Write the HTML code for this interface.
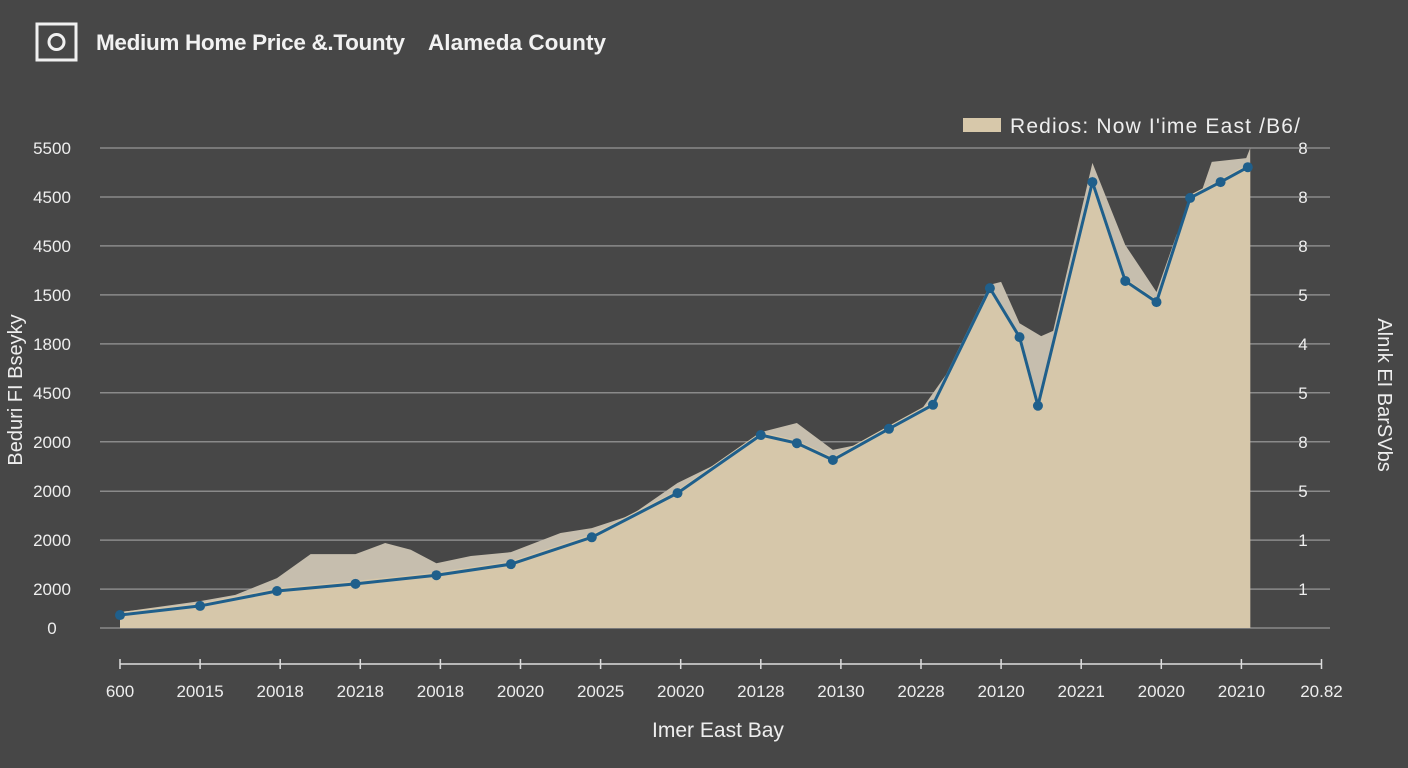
<!DOCTYPE html>
<html><head><meta charset="utf-8"><style>
body{margin:0;background:#474747;width:1408px;height:768px;overflow:hidden;font-family:"Liberation Sans",sans-serif}
</style></head><body>
<svg width="1408" height="768" style="display:block">
<rect width="1408" height="768" fill="#474747"/>
<rect x="37" y="24" width="39" height="36" fill="none" stroke="#f0f0f0" stroke-width="3"/>
<circle cx="56.5" cy="42" r="7.5" fill="none" stroke="#f0f0f0" stroke-width="3"/>
<text x="96" y="50" fill="#f2f2f2" font-size="22.5" font-weight="bold" textLength="309">Medium Home Price &amp;.Tounty</text>
<text x="428" y="50" fill="#f2f2f2" font-size="22.5" font-weight="bold" textLength="178">Alameda County</text>
<rect x="963" y="118" width="38" height="14" fill="#d7c8aa"/>
<text x="1010" y="133" fill="#eeeeee" font-size="21" textLength="290">Redios: Now I'ime East  /B6/</text>
<g id="grid"></g><g id="areas"></g><g id="series"></g><g id="axes"></g>
<text transform="translate(22,390) rotate(-90)" text-anchor="middle" fill="#eeeeee" font-size="20">Beduri FI Bseyky</text>
<text transform="translate(1378,395) rotate(90)" text-anchor="middle" fill="#eeeeee" font-size="20">Alnık EI BarSVbs</text>
<text x="718" y="737" text-anchor="middle" fill="#eeeeee" font-size="21">Imer East Bay</text>
</svg>
<script>
const yTickLabels=["5500","4500","4500","1500","1800","4500","2000","2000","2000","2000","0"];
const yTickValues=[100,89.8,79.6,69.4,59.2,49,38.8,28.5,18.3,8.1,0];
const y2TickLabels=["8","8","8","5","4","5","8","5","1","1"];
const xTickLabels=["600","20015","20018","20218","20018","20020","20025","20020","20128","20130","20228","20120","20221","20020","20210","20.82"];
const lineX=[0,1,1.96,2.94,3.95,4.88,5.89,6.96,8,8.45,8.9,9.6,10.15,10.86,11.23,11.46,12.14,12.55,12.94,13.36,13.74,14.08];
const lineV=[2.7,4.6,7.7,9.2,11,13.3,18.9,28.1,40.2,38.5,35,41.5,46.5,70.8,60.6,46.3,92.9,72.3,67.9,89.6,92.9,96];
const areaX=[0,1,1.44,1.96,2.38,2.94,3.31,3.63,3.95,4.38,4.88,5.5,5.89,6.38,6.96,7.5,8,8.45,8.9,9.25,9.6,10,10.31,10.86,11,11.23,11.5,11.65,12.14,12.55,12.94,13.19,13.5,13.63,14.06,14.11];
const areaV=[3.3,5.6,6.9,10.4,15.4,15.4,17.7,16.3,13.5,15,15.8,19.8,20.8,23.5,30.2,34.6,40.8,42.7,37.1,38.3,42.1,45.4,52.7,71.5,72.1,63.5,60.8,61.9,96.9,79.8,70,81.9,90.8,97.1,97.9,100];
const X=t=>120+t*80.1, Y=v=>628-v*4.8;
const NS="http://www.w3.org/2000/svg";
function mk(tag,attrs,parent){const e=document.createElementNS(NS,tag);for(const k in attrs)e.setAttribute(k,attrs[k]);parent.appendChild(e);return e;}
const grid=document.getElementById('grid'),axes=document.getElementById('axes'),areas=document.getElementById('areas'),series=document.getElementById('series');
yTickValues.forEach((v,i)=>{
 const l=mk('line',{x1:100,x2:1330,y1:Y(v),y2:Y(v),stroke:'#8a8a8a','stroke-width':1.5},grid);
 
 
 const t=mk('text',{x:52,y:Y(v)+6,'text-anchor':'middle',fill:'#eeeeee','font-size':17},axes);t.textContent=yTickLabels[i];
 
 
 if(i<y2TickLabels.length){const t2=mk('text',{x:1303,y:Y(v)+6,'text-anchor':'middle',fill:'#eeeeee','font-size':17},axes);t2.textContent=y2TickLabels[i];
 
 }
});
const ax=mk('line',{x1:120,x2:1322,y1:664,y2:664,stroke:'#dddddd','stroke-width':1.5},axes);


xTickLabels.forEach((s,i)=>{
 mk('line',{x1:X(i),x2:X(i),y1:659,y2:669,stroke:'#dddddd','stroke-width':1.5},axes);
 const t=mk('text',{x:X(i),y:697,'text-anchor':'middle',fill:'#eeeeee','font-size':17},axes);t.textContent=s;
 
 
});
let d='M'+X(areaX[0])+','+Y(0);areaX.forEach((x,i)=>d+=' L'+X(x)+','+Y(areaV[i]));d+=' L'+X(areaX[areaX.length-1])+','+Y(0)+'Z';
const a1=mk('path',{d:d,fill:'#c6beae'},areas);


let d2='M'+X(lineX[0])+','+Y(0);lineX.forEach((x,i)=>d2+=' L'+X(x)+','+(Y(lineV[i])-3));d2+=' L'+X(areaX[areaX.length-1])+','+Y(96)+' L'+X(areaX[areaX.length-1])+','+Y(0)+'Z';
const a2=mk('path',{d:d2,fill:'#d6c7aa'},areas);


const pl=mk('polyline',{points:lineX.map((x,i)=>X(x)+','+Y(lineV[i])).join(' '),fill:'none',stroke:'#1f5f8b','stroke-width':3},series);


lineX.forEach((x,i)=>{const c=mk('circle',{cx:X(x),cy:Y(lineV[i]),r:5,fill:'#1f5f8b'},series);
 
 });
</script>
</body></html>
